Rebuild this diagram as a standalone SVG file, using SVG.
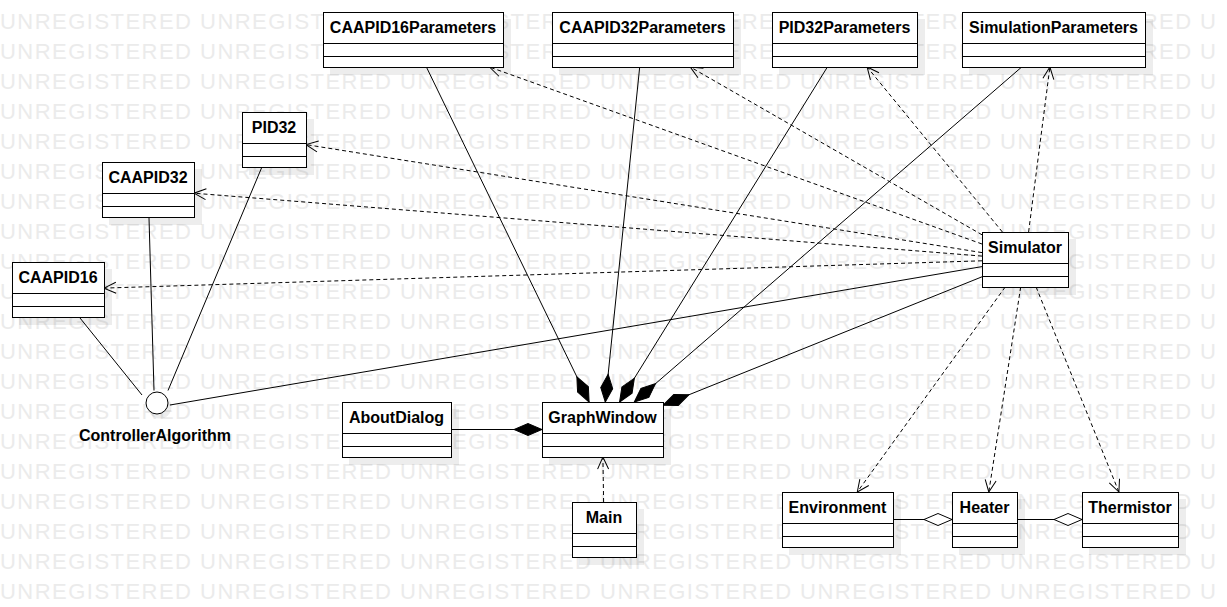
<svg xmlns="http://www.w3.org/2000/svg" width="1227" height="607" viewBox="0 0 1227 607">
<style>
.wm { font-family: "Liberation Sans", Arial, sans-serif; font-size: 22px; letter-spacing: 1.47px; fill: #ebebeb; }
.box { fill: #ffffff; stroke: #000000; stroke-width: 1; }
.sh { fill: #000000; fill-opacity: 0.07; }
.sep { stroke: #000000; stroke-width: 1; fill: none; }
.name { font-family: "Liberation Sans", Arial, sans-serif; font-size: 16px; font-weight: bold; fill: #000000; text-anchor: middle; }
.ln { fill: none; stroke: #000000; stroke-width: 1; }
.dash { stroke-dasharray: 4 3; }
</style>
<defs>
<marker id="arrow" markerUnits="userSpaceOnUse" viewBox="-14 -8 16 16" markerWidth="16" markerHeight="16" refX="0" refY="0" orient="auto">
<path d="M-12,-5.5 L0,0 L-12,5.5" fill="none" stroke="#000000" stroke-width="1"/>
</marker>
<marker id="comp" markerUnits="userSpaceOnUse" viewBox="-30 -8 32 16" markerWidth="32" markerHeight="16" refX="0" refY="0" orient="auto">
<path d="M0,0 L-14,-6 L-28,0 L-14,6 Z" fill="#000000" stroke="#000000" stroke-width="1"/>
</marker>
<marker id="aggr" markerUnits="userSpaceOnUse" viewBox="-30 -8 32 16" markerWidth="32" markerHeight="16" refX="0" refY="0" orient="auto">
<path d="M0,0 L-14,-6 L-28,0 L-14,6 Z" fill="#ffffff" stroke="#000000" stroke-width="1"/>
</marker>
</defs>
<rect x="0" y="0" width="1227" height="607" fill="#ffffff"/>
<g id="watermark">
<text class="wm" x="0" y="29">UNREGISTERED UNREGISTERED UNREGISTERED UNREGISTERED UNREGISTERED UNREGISTERED U</text>
<text class="wm" x="0" y="59">UNREGISTERED UNREGISTERED UNREGISTERED UNREGISTERED UNREGISTERED UNREGISTERED U</text>
<text class="wm" x="0" y="89">UNREGISTERED UNREGISTERED UNREGISTERED UNREGISTERED UNREGISTERED UNREGISTERED U</text>
<text class="wm" x="0" y="119">UNREGISTERED UNREGISTERED UNREGISTERED UNREGISTERED UNREGISTERED UNREGISTERED U</text>
<text class="wm" x="0" y="149">UNREGISTERED UNREGISTERED UNREGISTERED UNREGISTERED UNREGISTERED UNREGISTERED U</text>
<text class="wm" x="0" y="179">UNREGISTERED UNREGISTERED UNREGISTERED UNREGISTERED UNREGISTERED UNREGISTERED U</text>
<text class="wm" x="0" y="209">UNREGISTERED UNREGISTERED UNREGISTERED UNREGISTERED UNREGISTERED UNREGISTERED U</text>
<text class="wm" x="0" y="239">UNREGISTERED UNREGISTERED UNREGISTERED UNREGISTERED UNREGISTERED UNREGISTERED U</text>
<text class="wm" x="0" y="269">UNREGISTERED UNREGISTERED UNREGISTERED UNREGISTERED UNREGISTERED UNREGISTERED U</text>
<text class="wm" x="0" y="299">UNREGISTERED UNREGISTERED UNREGISTERED UNREGISTERED UNREGISTERED UNREGISTERED U</text>
<text class="wm" x="0" y="329">UNREGISTERED UNREGISTERED UNREGISTERED UNREGISTERED UNREGISTERED UNREGISTERED U</text>
<text class="wm" x="0" y="359">UNREGISTERED UNREGISTERED UNREGISTERED UNREGISTERED UNREGISTERED UNREGISTERED U</text>
<text class="wm" x="0" y="389">UNREGISTERED UNREGISTERED UNREGISTERED UNREGISTERED UNREGISTERED UNREGISTERED U</text>
<text class="wm" x="0" y="419">UNREGISTERED UNREGISTERED UNREGISTERED UNREGISTERED UNREGISTERED UNREGISTERED U</text>
<text class="wm" x="0" y="449">UNREGISTERED UNREGISTERED UNREGISTERED UNREGISTERED UNREGISTERED UNREGISTERED U</text>
<text class="wm" x="0" y="479">UNREGISTERED UNREGISTERED UNREGISTERED UNREGISTERED UNREGISTERED UNREGISTERED U</text>
<text class="wm" x="0" y="509">UNREGISTERED UNREGISTERED UNREGISTERED UNREGISTERED UNREGISTERED UNREGISTERED U</text>
<text class="wm" x="0" y="539">UNREGISTERED UNREGISTERED UNREGISTERED UNREGISTERED UNREGISTERED UNREGISTERED U</text>
<text class="wm" x="0" y="569">UNREGISTERED UNREGISTERED UNREGISTERED UNREGISTERED UNREGISTERED UNREGISTERED U</text>
<text class="wm" x="0" y="599">UNREGISTERED UNREGISTERED UNREGISTERED UNREGISTERED UNREGISTERED UNREGISTERED U</text>
</g>
<g id="shadows">
<rect class="sh" x="330" y="19" width="181" height="56"/>
<rect class="sh" x="559" y="19" width="182" height="56"/>
<rect class="sh" x="779" y="19" width="146" height="56"/>
<rect class="sh" x="969" y="19" width="184" height="56"/>
<rect class="sh" x="249" y="119" width="65" height="56"/>
<rect class="sh" x="109" y="169" width="93" height="56"/>
<rect class="sh" x="19" y="269" width="93" height="56"/>
<rect class="sh" x="989" y="239" width="87" height="56"/>
<rect class="sh" x="349" y="409" width="110" height="56"/>
<rect class="sh" x="549" y="409" width="122" height="56"/>
<rect class="sh" x="579" y="509" width="65" height="56"/>
<rect class="sh" x="789" y="499" width="112" height="56"/>
<rect class="sh" x="959" y="499" width="66" height="56"/>
<rect class="sh" x="1089" y="499" width="97" height="56"/>
<circle class="sh" cx="160" cy="407" r="11.5"/>
</g>
<g id="connectors">
<path class="ln dash" d="M982,244.0 L489.5,67" marker-end="url(#arrow)"/>
<path class="ln dash" d="M982,234.8 L690.3,67" marker-end="url(#arrow)"/>
<path class="ln dash" d="M1002.4,232 L867.1,67" marker-end="url(#arrow)"/>
<path class="ln dash" d="M1028.6,232 L1049.9,67" marker-end="url(#arrow)"/>
<path class="ln dash" d="M982,252.6 L306,144.6" marker-end="url(#arrow)"/>
<path class="ln dash" d="M982,256.1 L194,193.2" marker-end="url(#arrow)"/>
<path class="ln dash" d="M982,260.8 L104,288.1" marker-end="url(#arrow)"/>
<path class="ln dash" d="M1005.2,287 L857.3,492" marker-end="url(#arrow)"/>
<path class="ln dash" d="M1020.7,287 L988.8,492" marker-end="url(#arrow)"/>
<path class="ln dash" d="M1036.1,287 L1118.9,492" marker-end="url(#arrow)"/>
<path class="ln dash" d="M603.6,502 L602.9,457" marker-end="url(#arrow)"/>
<path class="ln" d="M426.4,67 L589.1,402" marker-end="url(#comp)"/>
<path class="ln" d="M639.7,67 L605.3,402" marker-end="url(#comp)"/>
<path class="ln" d="M827.4,67 L619.6,402" marker-end="url(#comp)"/>
<path class="ln" d="M1021.7,67 L634.3,402" marker-end="url(#comp)"/>
<path class="ln" d="M982,276.8 L663,405.2" marker-end="url(#comp)"/>
<path class="ln" d="M451,429.5 L542,429.5" marker-end="url(#comp)"/>
<path class="ln" d="M893,519.5 L952,519.5" marker-end="url(#aggr)"/>
<path class="ln" d="M1017,519.5 L1082,519.5" marker-end="url(#aggr)"/>
<path class="ln" d="M80,318 L142,395"/>
<path class="ln" d="M149,218 L154,390.5"/>
<path class="ln" d="M261.5,168 L168,390.5"/>
<path class="ln" d="M982,266.6 L170,405"/>
</g>
<g id="CAAPID16Parameters">
<rect class="box" x="323.5" y="12.5" width="180" height="55"/>
<path class="sep" d="M323.5,43.5 H503.5 M323.5,56.5 H503.5"/>
<text class="name" x="413" y="33">CAAPID16Parameters</text>
</g>
<g id="CAAPID32Parameters">
<rect class="box" x="552.5" y="12.5" width="181" height="55"/>
<path class="sep" d="M552.5,43.5 H733.5 M552.5,56.5 H733.5"/>
<text class="name" x="642.5" y="33">CAAPID32Parameters</text>
</g>
<g id="PID32Parameters">
<rect class="box" x="772.5" y="12.5" width="145" height="55"/>
<path class="sep" d="M772.5,43.5 H917.5 M772.5,56.5 H917.5"/>
<text class="name" x="844.5" y="33">PID32Parameters</text>
</g>
<g id="SimulationParameters">
<rect class="box" x="962.5" y="12.5" width="183" height="55"/>
<path class="sep" d="M962.5,43.5 H1145.5 M962.5,56.5 H1145.5"/>
<text class="name" x="1053.5" y="33">SimulationParameters</text>
</g>
<g id="PID32">
<rect class="box" x="242.5" y="112.5" width="64" height="55"/>
<path class="sep" d="M242.5,143.5 H306.5 M242.5,156.5 H306.5"/>
<text class="name" x="274" y="133">PID32</text>
</g>
<g id="CAAPID32">
<rect class="box" x="102.5" y="162.5" width="92" height="55"/>
<path class="sep" d="M102.5,193.5 H194.5 M102.5,206.5 H194.5"/>
<text class="name" x="148" y="183">CAAPID32</text>
</g>
<g id="CAAPID16">
<rect class="box" x="12.5" y="262.5" width="92" height="55"/>
<path class="sep" d="M12.5,293.5 H104.5 M12.5,306.5 H104.5"/>
<text class="name" x="58" y="283">CAAPID16</text>
</g>
<g id="ControllerAlgorithm">
<circle cx="157" cy="403" r="11" fill="#ffffff" stroke="#000000" stroke-width="1"/>
<text class="name" x="155" y="441">ControllerAlgorithm</text>
</g>
<g id="Simulator">
<rect class="box" x="982.5" y="232.5" width="86" height="55"/>
<path class="sep" d="M982.5,263.5 H1068.5 M982.5,276.5 H1068.5"/>
<text class="name" x="1025" y="253">Simulator</text>
</g>
<g id="AboutDialog">
<rect class="box" x="342.5" y="402.5" width="109" height="55"/>
<path class="sep" d="M342.5,433.5 H451.5 M342.5,446.5 H451.5"/>
<text class="name" x="396.5" y="423">AboutDialog</text>
</g>
<g id="GraphWindow">
<rect class="box" x="542.5" y="402.5" width="121" height="55"/>
<path class="sep" d="M542.5,433.5 H663.5 M542.5,446.5 H663.5"/>
<text class="name" x="602.5" y="423">GraphWindow</text>
</g>
<g id="Main">
<rect class="box" x="572.5" y="502.5" width="64" height="55"/>
<path class="sep" d="M572.5,533.5 H636.5 M572.5,546.5 H636.5"/>
<text class="name" x="604" y="523">Main</text>
</g>
<g id="Environment">
<rect class="box" x="782.5" y="492.5" width="111" height="55"/>
<path class="sep" d="M782.5,523.5 H893.5 M782.5,536.5 H893.5"/>
<text class="name" x="837.5" y="513">Environment</text>
</g>
<g id="Heater">
<rect class="box" x="952.5" y="492.5" width="65" height="55"/>
<path class="sep" d="M952.5,523.5 H1017.5 M952.5,536.5 H1017.5"/>
<text class="name" x="984.5" y="513">Heater</text>
</g>
<g id="Thermistor">
<rect class="box" x="1082.5" y="492.5" width="96" height="55"/>
<path class="sep" d="M1082.5,523.5 H1178.5 M1082.5,536.5 H1178.5"/>
<text class="name" x="1130" y="513">Thermistor</text>
</g>
</svg>
